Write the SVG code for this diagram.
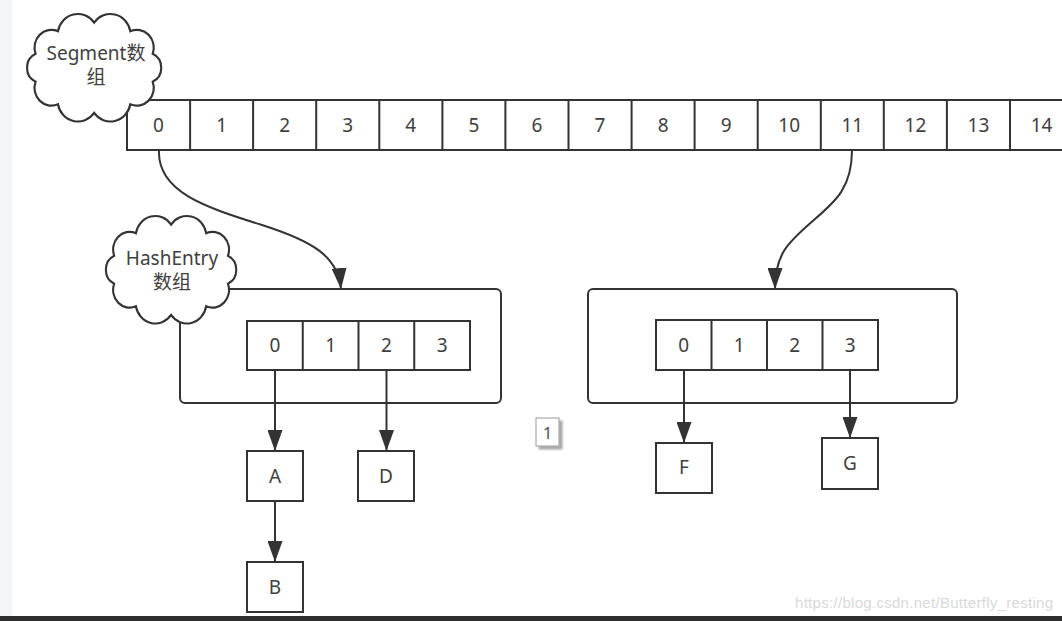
<svg xmlns="http://www.w3.org/2000/svg" width="1062" height="621" viewBox="0 0 1062 621">
<style>
.ln{fill:none;stroke:#333;stroke-width:2}
.bx{fill:#fff;stroke:#333;stroke-width:2}
.cl{fill:#fff;stroke:#333;stroke-width:2;vector-effect:non-scaling-stroke}
.t{font-family:"Noto Sans","Noto Sans CJK SC",sans-serif;font-size:19px;fill:#404040;text-anchor:middle;dominant-baseline:central}
.wm{font-family:"Liberation Sans",Arial,sans-serif;font-size:15px;fill:#d9d9d9}
</style>
<defs>
<marker id="ah" viewBox="0 0 21 15" refX="21" refY="7.5" markerWidth="21" markerHeight="15" markerUnits="userSpaceOnUse" orient="auto">
<path d="M0,0 L21,7.5 L0,15 Z" fill="#333"/>
</marker>
<path id="cloud" d="M124.2,65.2 A16 16 0 0 1 103.1,85.7 A19 19 0 0 1 69,93.5 A19 19 0 0 1 34.9,85.7 A16 16 0 0 1 13.8,65.2 A14 14 0 0 1 13.8,39.8 A16 16 0 0 1 34.9,19.3 A19 19 0 0 1 69,11.5 A19 19 0 0 1 103.1,19.3 A16 16 0 0 1 124.2,39.8 A14 14 0 0 1 124.2,65.2 Z"/>
<filter id="sh" x="-20%" y="-20%" width="160%" height="160%"><feDropShadow dx="3" dy="3" stdDeviation="1" flood-color="#000" flood-opacity="0.35"/></filter>
</defs>
<rect x="0" y="0" width="1062" height="621" fill="#fff"/>
<rect x="0" y="0" width="12" height="616" fill="#f3f6f9"/>

<g id="segment-array">
<rect class="bx" x="127" y="100" width="948" height="50"/>
<path class="ln" d="M190.1,100V150M253.1,100V150M316.2,100V150M379.3,100V150M442.4,100V150M505.4,100V150M568.5,100V150M631.6,100V150M694.6,100V150M757.7,100V150M820.8,100V150M883.8,100V150M946.9,100V150M1010,100V150"/>
<text class="t" x="158.5" y="124.5">0</text>
<text class="t" x="221.6" y="124.5">1</text>
<text class="t" x="284.7" y="124.5">2</text>
<text class="t" x="347.7" y="124.5">3</text>
<text class="t" x="410.8" y="124.5">4</text>
<text class="t" x="473.9" y="124.5">5</text>
<text class="t" x="537" y="124.5">6</text>
<text class="t" x="600" y="124.5">7</text>
<text class="t" x="663.1" y="124.5">8</text>
<text class="t" x="726.2" y="124.5">9</text>
<text class="t" x="789.2" y="124.5">10</text>
<text class="t" x="852.3" y="124.5">11</text>
<text class="t" x="915.4" y="124.5">12</text>
<text class="t" x="978.4" y="124.5">13</text>
<text class="t" x="1041.5" y="124.5">14</text>
</g>

<g id="segment-left">
<rect class="bx" x="180" y="289" width="321" height="114" rx="5"/>
<rect class="bx" x="247" y="321" width="223" height="49"/>
<path class="ln" d="M302.75,321V370M358.5,321V370M414.25,321V370"/>
<text class="t" x="274.9" y="345">0</text>
<text class="t" x="330.6" y="345">1</text>
<text class="t" x="386.4" y="345">2</text>
<text class="t" x="442.1" y="345">3</text>
</g>

<g id="segment-right">
<rect class="bx" x="588" y="289" width="369" height="114" rx="5"/>
<rect class="bx" x="656" y="320" width="222" height="50"/>
<path class="ln" d="M711.5,320V370M767,320V370M822.5,320V370"/>
<text class="t" x="683.8" y="345">0</text>
<text class="t" x="739.3" y="345">1</text>
<text class="t" x="794.8" y="345">2</text>
<text class="t" x="850.3" y="345">3</text>
</g>

<g id="node-A"><rect class="bx" x="247" y="451" width="56" height="50"/><text class="t" x="275" y="475.5">A</text></g>
<g id="node-D"><rect class="bx" x="358" y="451" width="56" height="50"/><text class="t" x="386" y="475.5">D</text></g>
<g id="node-B"><rect class="bx" x="247" y="562" width="56" height="50"/><text class="t" x="275" y="586.5">B</text></g>
<g id="node-F"><rect class="bx" x="656" y="443" width="56" height="50"/><text class="t" x="684" y="467">F</text></g>
<g id="node-G"><rect class="bx" x="822" y="438" width="56" height="51"/><text class="t" x="850" y="463">G</text></g>

<g id="connectors">
<path class="ln" marker-end="url(#ah)" d="M159,150 C157,192 205,207 262,225 C312,241 338,256 341,289"/>
<path class="ln" marker-end="url(#ah)" d="M852,150 C852,187 836,201 815,219 C790,241 775,252 775,289"/>
<path class="ln" marker-end="url(#ah)" d="M275,370 V451"/>
<path class="ln" marker-end="url(#ah)" d="M386.5,370 V451"/>
<path class="ln" marker-end="url(#ah)" d="M275,501 V562"/>
<path class="ln" marker-end="url(#ah)" d="M684,370 V443"/>
<path class="ln" marker-end="url(#ah)" d="M850,370 V438"/>
</g>

<g id="cloud-segment">
<use href="#cloud" class="cl" transform="translate(21,10) scale(1.06,1.1)"/>
<text class="t" x="96" y="53">Segment数</text>
<text class="t" x="96" y="77">组</text>
</g>

<g id="cloud-hashentry">
<use href="#cloud" class="cl" transform="translate(100,212) scale(1.03,1.1)"/>
<text class="t" x="172" y="258">HashEntry</text>
<text class="t" x="172" y="282">数组</text>
</g>

<g id="page-marker">
<rect x="536" y="418" width="23" height="28" fill="#fff" stroke="#999" stroke-width="1" filter="url(#sh)"/>
<text class="t" x="547.5" y="432" style="font-size:17px;fill:#555">1</text>
</g>

<text class="wm" x="795" y="608" textLength="258">https://blog.csdn.net/Butterfly_resting</text>
<rect x="0" y="616" width="1062" height="5" fill="#2e2e2e"/>
</svg>
